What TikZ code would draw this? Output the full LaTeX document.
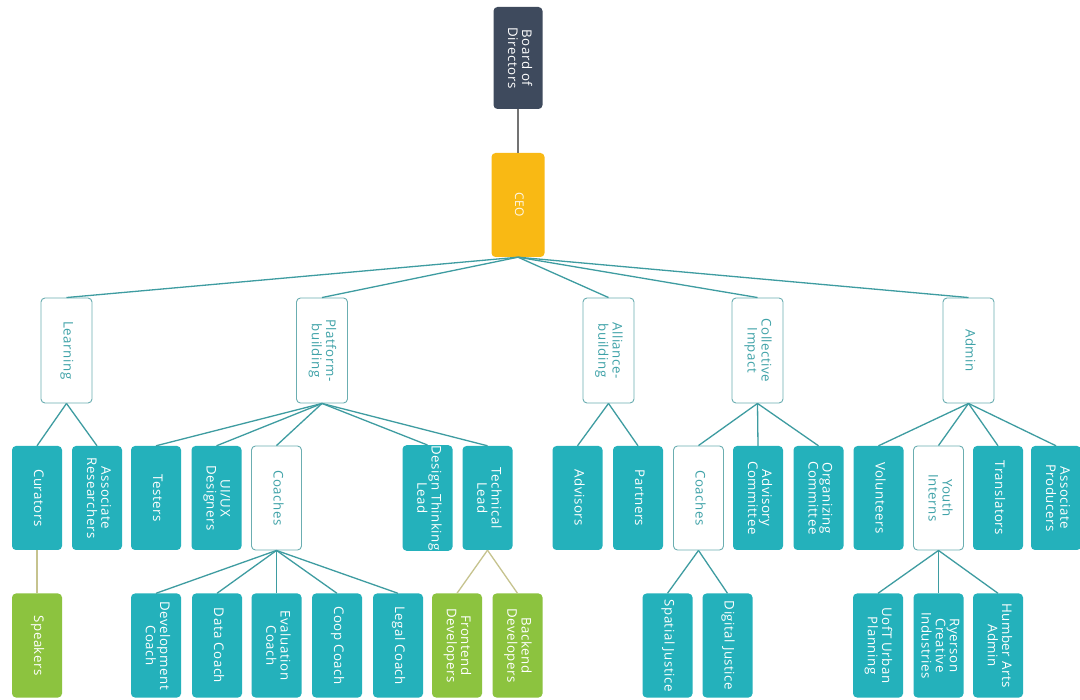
\documentclass[tikz,border=0pt]{standalone}
\usepackage{fontspec}
\setmainfont{Open Sans}[LetterSpace=4]
\usepackage{graphicx}
\definecolor{navy}{HTML}{3E4A5D}
\definecolor{amber}{HTML}{F9B914}
\definecolor{tealfill}{HTML}{24B1BB}
\definecolor{greenfill}{HTML}{8CC33F}
\definecolor{linecol}{HTML}{3E9CA1}
\definecolor{olivecol}{HTML}{C6C38E}
\definecolor{wborder}{HTML}{6BAEB1}
\definecolor{wtext}{HTML}{3FA2A8}
\newcommand{\vt}[1]{\rotatebox{-90}{\begin{tabular}{@{}c@{}}#1\end{tabular}}}
\begin{document}
\begin{tikzpicture}[x=1pt,y=-1pt,
  box/.style={rounded corners=4pt, minimum width=50pt, minimum height=104pt, inner sep=0pt,
    font=\fontsize{13.3}{14}\selectfont},
  tbox/.style={box, fill=tealfill, text=white},
  gbox/.style={box, fill=greenfill, text=white},
  wbox/.style={box, draw=wborder, line width=0.9pt, fill=white, text=wtext},
  lnk/.style={draw=linecol, line width=1.3pt},
  olk/.style={draw=olivecol, line width=1.3pt},
  glk/.style={draw=gray!90!black, line width=1.3pt}
]
\useasboundingbox (0,0) rectangle (1080,700);
\fill[white] (0,0) rectangle (1080,700);

% top
\node[box, fill=navy, text=white, minimum width=49pt, minimum height=102pt] (board) at (518,58) {\vt{Board of\\Directors}};
\node[box, fill=amber, text=white!92!amber, minimum width=53pt, minimum height=104pt, font=\fontsize{12}{14}\selectfont] (ceo) at (518,205) {\vt{CEO}};

% level 2
\node[wbox, minimum width=51pt, minimum height=105pt] (learn) at (66.5,350.5) {\vt{Learning}};
\node[wbox, minimum width=51pt, minimum height=105pt] (plat) at (322,350.5) {\vt{Platform-\\building}};
\node[wbox, minimum width=51pt, minimum height=105pt] (alli) at (608.5,350.5) {\vt{Alliance-\\building}};
\node[wbox, minimum width=51pt, minimum height=105pt] (coll) at (757.5,350.5) {\vt{Collective\\Impact}};
\node[wbox, minimum width=51pt, minimum height=105pt] (admin) at (968.5,350.5) {\vt{Admin}};

% level 3
\node[tbox] (cur) at (37,498) {\vt{Curators}};
\node[tbox] (ares) at (97,498) {\vt{Associate\\Researchers}};
\node[tbox] (test) at (156,498) {\vt{Testers}};
\node[tbox] (uiux) at (216.5,498) {\vt{UI/UX\\Designers}};
\node[wbox] (coach) at (276.5,498) {\vt{Coaches}};
\node[tbox] (dtl) at (427.5,498) {\vt{Design Thinking\\Lead}};
\node[tbox] (tl) at (487.5,498) {\vt{Technical\\Lead}};
\node[tbox] (adv) at (577.5,498) {\vt{Advisors}};
\node[tbox] (part) at (638,498) {\vt{Partners}};
\node[wbox] (coach2) at (698.5,498) {\vt{Coaches}};
\node[tbox] (advc) at (758,498) {\vt{Advisory\\Committee}};
\node[tbox] (orgc) at (818.5,498) {\vt{Organizing\\Committee}};
\node[tbox] (vol) at (878.5,498) {\vt{Volunteers}};
\node[wbox] (youth) at (938.5,498) {\vt{Youth\\Interns}};
\node[tbox] (trans) at (998,498) {\vt{Translators}};
\node[tbox] (aprod) at (1056,498) {\vt{Associate\\Producers}};

% level 4
\node[gbox] (spk) at (37,645.5) {\vt{Speakers}};
\node[tbox] (devc) at (156,645.5) {\vt{Development\\Coach}};
\node[tbox] (datac) at (217,645.5) {\vt{Data Coach}};
\node[tbox] (evalc) at (276.5,645.5) {\vt{Evaluation\\Coach}};
\node[tbox] (coopc) at (337,645.5) {\vt{Coop Coach}};
\node[tbox] (legc) at (398,645.5) {\vt{Legal Coach}};
\node[gbox] (fe) at (457,645.5) {\vt{Frontend\\Developers}};
\node[gbox] (be) at (517.5,645.5) {\vt{Backend\\Developers}};
\node[tbox] (spj) at (667.5,645.5) {\vt{Spatial Justice}};
\node[tbox] (dij) at (727.5,645.5) {\vt{Digital Justice}};
\node[tbox] (uoft) at (878,645.5) {\vt{UofT Urban\\Planning}};
\node[tbox] (ryer) at (938.5,645.5) {\vt{Ryerson\\Creative\\Industries}};
\node[tbox] (humb) at (998,645.5) {\vt{Humber Arts\\Admin}};

% connectors
\draw[glk] (board.south) -- (ceo.north);
\foreach \t in {learn,plat,alli,coll,admin} \draw[lnk] (ceo.south) -- (\t.north);
\foreach \t in {cur,ares} \draw[lnk] (learn.south) -- (\t.north);
\foreach \t in {test,uiux,coach,dtl,tl} \draw[lnk] (plat.south) -- (\t.north);
\foreach \t in {adv,part} \draw[lnk] (alli.south) -- (\t.north);
\foreach \t in {coach2,advc,orgc} \draw[lnk] (coll.south) -- (\t.north);
\foreach \t in {vol,youth,trans,aprod} \draw[lnk] (admin.south) -- (\t.north);
\draw[olk] (cur.south) -- (spk.north);
\foreach \t in {devc,datac,evalc,coopc,legc} \draw[lnk] (coach.south) -- (\t.north);
\foreach \t in {fe,be} \draw[olk] (tl.south) -- (\t.north);
\foreach \t in {spj,dij} \draw[lnk] (coach2.south) -- (\t.north);
\foreach \t in {uoft,ryer,humb} \draw[lnk] (youth.south) -- (\t.north);
\end{tikzpicture}
\end{document}
